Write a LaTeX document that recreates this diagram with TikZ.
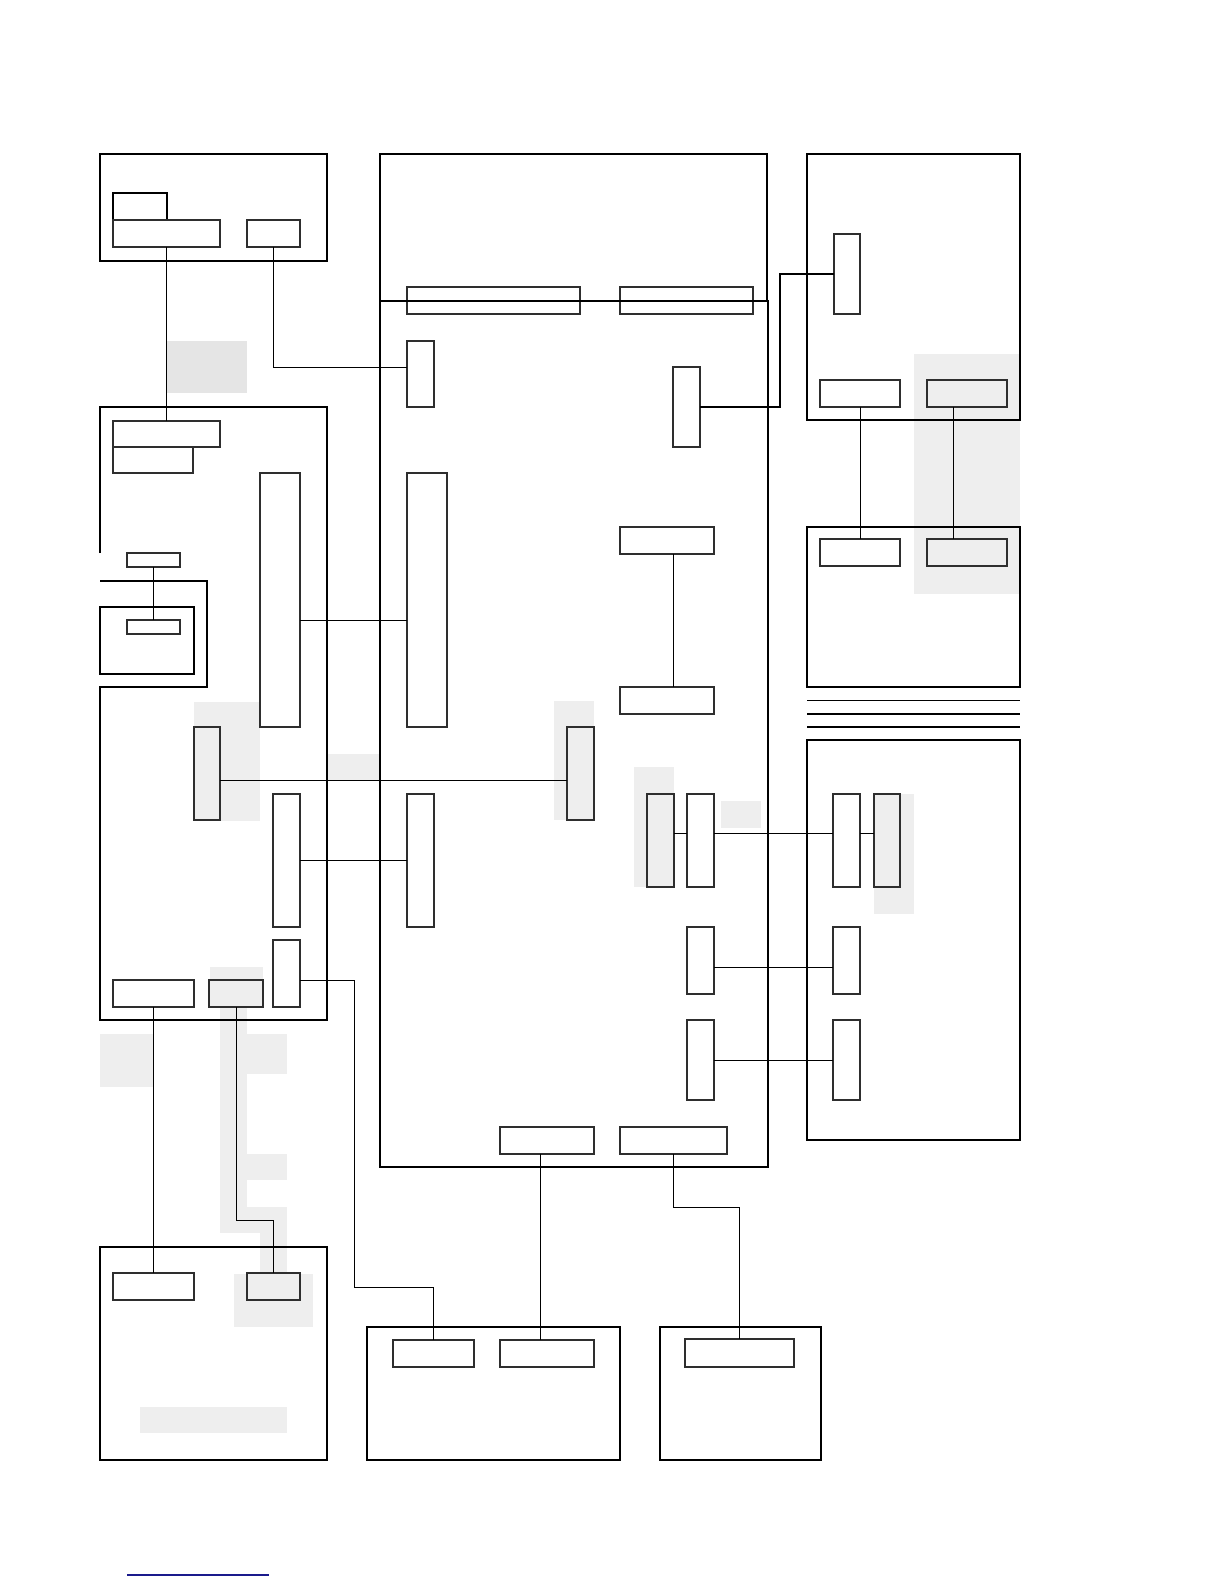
\documentclass[tikz,border=0pt]{standalone}
\usepackage{xcolor}
\usepackage{tikz}
\usetikzlibrary{positioning, fit}
\definecolor{zonegrey}{HTML}{EEEEEE}
\definecolor{zonedark}{HTML}{E5E5E5}
\definecolor{unitline}{HTML}{2E2E2E}
\definecolor{linkblue}{HTML}{1A1A8C}

\begin{document}
\begin{tikzpicture}[x=0.02cm, y=-0.02cm,
    outerbox/.style={draw=black, line width=1.1pt, inner sep=0pt, outer sep=0pt},
    unit/.style={draw=unitline, line width=0.7pt, fill=white, inner sep=0pt, outer sep=0pt},
    greyunit/.style={unit, fill=zonegrey},
    openunit/.style={unit, fill=none},
    zone/.style={fill=zonegrey, draw=none},
    wire/.style={draw=black, line width=0.55pt},
    heavywire/.style={draw=black, line width=1pt}
]

\useasboundingbox (0,0) rectangle (1224,1584);

% Shaded zones
\fill[zonedark] (167,341) rectangle (247,393);
\fill[zone] (194,702) rectangle (260,821);
\fill[zone] (327,754) rectangle (380,780);
\fill[zone] (554,701) rectangle (594,820);
\fill[zone] (634,767) rectangle (674,887);
\fill[zone] (721,801) rectangle (761,828);
\fill[zone] (874,794) rectangle (914,914);
\fill[zone] (914,354) rectangle (1020,594);
\fill[zone] (100,1034) rectangle (153,1087);
\fill[zone] (210,967) rectangle (263,1007);
\fill[zone] (220,1007) rectangle (247,1233);
\fill[zone] (247,1034) rectangle (287,1074);
\fill[zone] (247,1154) rectangle (287,1180);
\fill[zone] (247,1207) rectangle (287,1233);
\fill[zone] (260,1233) rectangle (287,1274);
\fill[zone] (234,1274) rectangle (313,1327);
\fill[zone] (140,1407) rectangle (287,1433);

% Units, host bars (drawn first, host outline runs across them)
\node[openunit, fit={(407,287) (580,314)}] (bar1) {};
\node[openunit, fit={(620,287) (753,314)}] (bar2) {};

% Enclosures
\node[outerbox, fit={(100,154) (327,261)}] (topleft) {};
\node[outerbox, fit={(380,154) (767,301)}] (hostcap) {};
\node[outerbox, fit={(380,301) (768,1167)}] (host) {};
\node[outerbox, fit={(807,154) (1020,420)}] (rtop) {};
\node[outerbox, fit={(807,527) (1020,687)}] (rmid) {};
\node[outerbox, fit={(807,740) (1020,1140)}] (rlow) {};
\node[outerbox, fit={(100,1247) (327,1460)}] (btmleft) {};
\node[outerbox, fit={(367,1327) (620,1460)}] (btmmid) {};
\node[outerbox, fit={(660,1327) (821,1460)}] (btmright) {};
\node[outerbox, fit={(100,607) (194,674)}] (pocket) {};
\draw[line width=1.1pt] (100,553) -- (100,407) -- (327,407) -- (327,1020) -- (100,1020)
    -- (100,687) -- (207,687) -- (207,581) -- (100,581);

% Rails (right side)
\draw[line width=0.55pt] (807,700) -- (1020,700);
\draw[line width=1.1pt] (807,714) -- (1020,714);
\draw[line width=1.1pt] (807,727) -- (1020,727);

% Units, top left
\draw[line width=0.9pt] (113,220) -- (113,193) -- (167,193) -- (167,220);
\node[unit, fit={(113,220) (220,247)}] (tlWide) {};
\node[unit, fit={(247,220) (300,247)}] (tlSmall) {};

% Units, left chassis
\node[unit, fit={(113,421) (220,447)}] (lmA) {};
\node[unit, fit={(113,447) (193,473)}] (lmB) {};
\node[unit, fit={(260,473) (300,727)}] (lmTall) {};
\node[unit, fit={(127,553) (180,567)}] (lmS1) {};
\node[unit, fit={(127,620) (180,634)}] (lmS2) {};
\node[greyunit, fit={(194,727) (220,820)}] (lmV) {};
\node[unit, fit={(273,794) (300,927)}] (lmM) {};
\node[unit, fit={(273,940) (300,1007)}] (lmN) {};
\node[unit, fit={(113,980) (194,1007)}] (lmP) {};
\node[greyunit, fit={(209,980) (263,1007)}] (lmQ) {};

% Units, host
\node[unit, fit={(407,341) (434,407)}] (mV1) {};
\node[unit, fit={(673,367) (700,447)}] (mV2) {};
\node[unit, fit={(407,473) (447,727)}] (mTall) {};
\node[unit, fit={(620,527) (714,554)}] (mH1) {};
\node[unit, fit={(620,687) (714,714)}] (mH2) {};
\node[greyunit, fit={(567,727) (594,820)}] (mG) {};
\node[unit, fit={(407,794) (434,927)}] (mM) {};
\node[greyunit, fit={(647,794) (674,887)}] (mP1) {};
\node[unit, fit={(687,794) (714,887)}] (mP2) {};
\node[unit, fit={(687,927) (714,994)}] (mR2) {};
\node[unit, fit={(687,1020) (714,1100)}] (mR3) {};
\node[unit, fit={(500,1127) (594,1154)}] (mA) {};
\node[unit, fit={(620,1127) (727,1154)}] (mB) {};

% Units, right side
\node[unit, fit={(834,234) (860,314)}] (trV) {};
\node[unit, fit={(820,380) (900,407)}] (trA) {};
\node[greyunit, fit={(927,380) (1007,407)}] (trB) {};
\node[unit, fit={(820,539) (900,566)}] (rmA) {};
\node[greyunit, fit={(927,539) (1007,566)}] (rmB) {};
\node[unit, fit={(833,794) (860,887)}] (rbP1) {};
\node[greyunit, fit={(874,794) (900,887)}] (rbP2) {};
\node[unit, fit={(833,927) (860,994)}] (rbR2) {};
\node[unit, fit={(833,1020) (860,1100)}] (rbR3) {};

% Units, bottom
\node[unit, fit={(113,1273) (194,1300)}] (blA) {};
\node[greyunit, fit={(247,1273) (300,1300)}] (blB) {};
\node[unit, fit={(393,1340) (474,1367)}] (bmA) {};
\node[unit, fit={(500,1340) (594,1367)}] (bmB) {};
\node[unit, fit={(685,1339) (794,1367)}] (brA) {};

% Connecting lines
\draw[wire] (tlWide.south) -- (lmA.north);
\draw[wire] (tlSmall.south) |- ([yshift=0.13cm]mV1.west);
\draw[heavywire] (mV2.east) -- ++(80,0) |- (trV.west);
\draw[wire] (lmS1.south) -- (lmS2.north);
\draw[wire] ([yshift=-0.4cm]lmTall.east) -- ([yshift=-0.4cm]mTall.west);
\draw[wire] ([yshift=-0.13cm]lmV.east) -- ([yshift=-0.13cm]mG.west);
\draw[wire] (lmM.east) -- (mM.west);
\draw[wire] ([yshift=-0.13cm]lmN.east) -- ++(54,0) -- ++(0,307) -| (bmA.north);
\draw[wire] (lmP.south) -- (blA.north);
\draw[wire] (lmQ.south) -- ++(0,213) -| (blB.north);
\draw[wire] ([xshift=0.13cm]mH1.south) -- ([xshift=0.13cm]mH2.north);
\draw[heavywire] ([yshift=0.14cm]mP1.east) -- ([yshift=0.14cm]mP2.west);
\draw[heavywire] ([yshift=0.14cm]mP2.east) -- ([yshift=0.14cm]rbP1.west);
\draw[heavywire] ([yshift=0.14cm]rbP1.east) -- ([yshift=0.14cm]rbP2.west);
\draw[wire] ([yshift=-0.13cm]mR2.east) -- ([yshift=-0.13cm]rbR2.west);
\draw[wire] (mR3.east) -- (rbR3.west);
\draw[wire] ([xshift=-0.13cm]mA.south) -- ([xshift=-0.13cm]bmB.north);
\draw[wire] (mB.south) -- ++(0,53) -| (brA.north);
\draw[wire] (trA.south) -- (rmA.north);
\draw[wire] ([xshift=-0.27cm]trB.south) -- ([xshift=-0.27cm]rmB.north);

% Footer rule
\draw[linkblue, line width=0.8pt] (127,1575) -- (269,1575);

\end{tikzpicture}
\end{document}
